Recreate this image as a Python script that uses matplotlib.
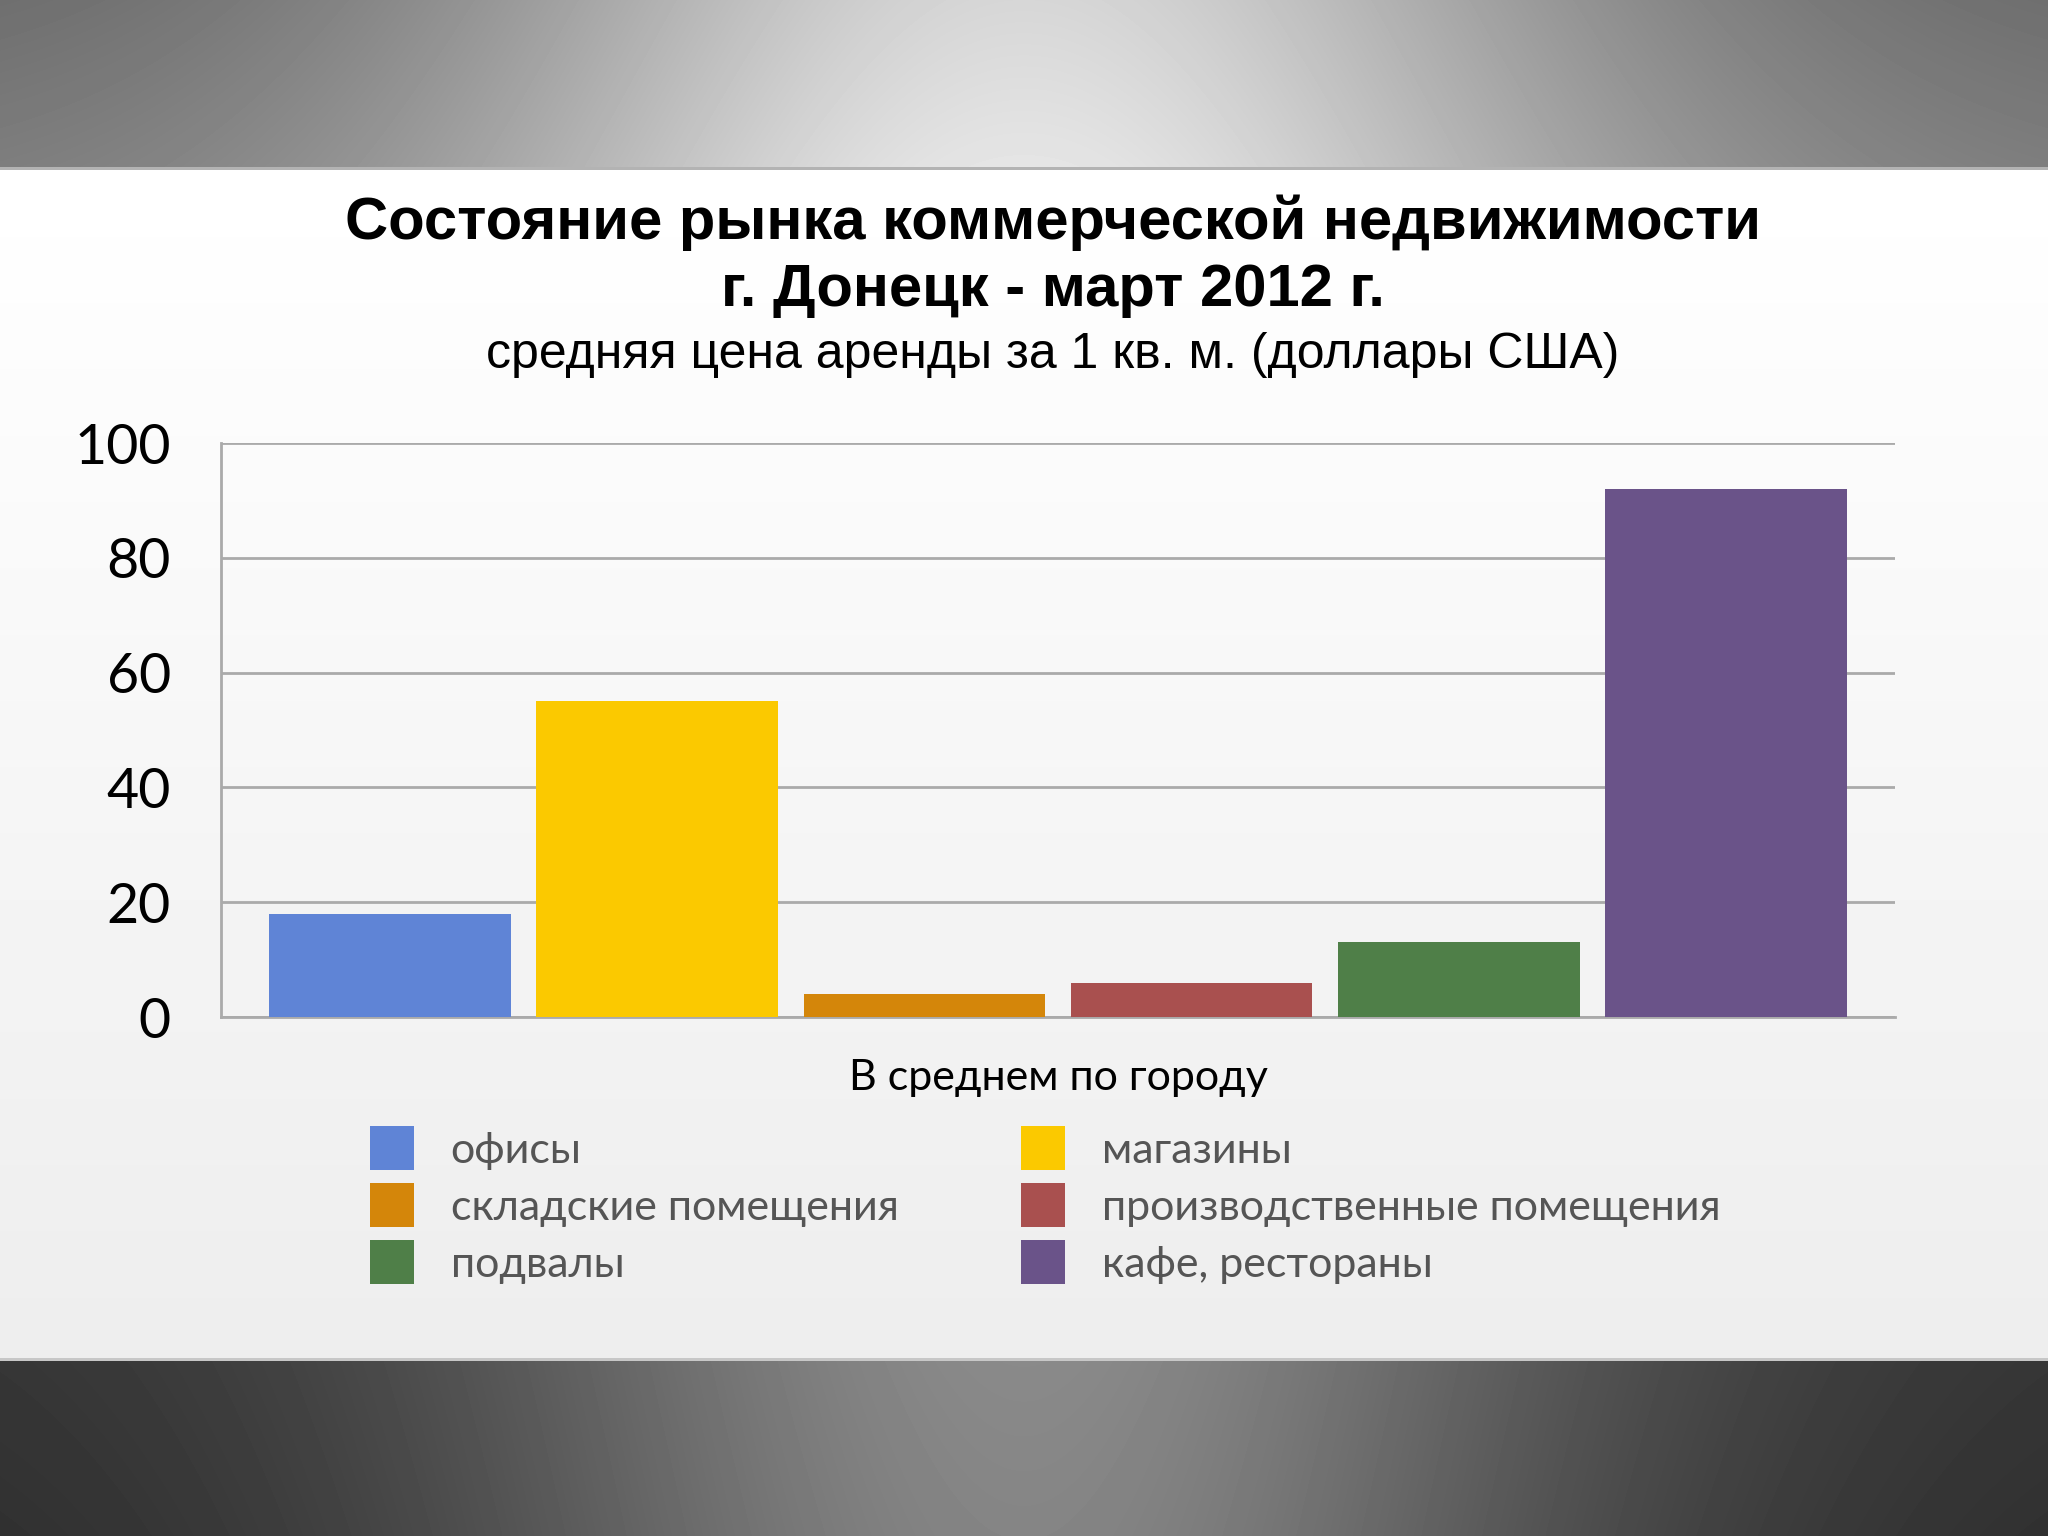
import numpy as np
import matplotlib
matplotlib.use("Agg")
import matplotlib.pyplot as plt
from matplotlib.patches import Patch

# данные
categories = ["офисы", "магазины", "складские помещения",
              "производственные помещения", "подвалы", "кафе, рестораны"]
values = [18, 55, 4, 6, 13, 92]
colors = ["#5f84d6", "#fbc900", "#d4860a", "#a9504f", "#4f7f48", "#6a5389"]
yticks = [0, 20, 40, 60, 80, 100]
group_label = "В среднем по городу"
title1 = "Состояние рынка коммерческой недвижимости"
title2 = "г. Донецк - март 2012 г."
subtitle = "средняя цена аренды за 1 кв. м. (доллары США)"

W, H = 2048, 1536
fig = plt.figure(figsize=(W / 100, H / 100), dpi=100)

# фон слайда: серые полосы сверху и снизу, светлый градиент посередине
xs = np.linspace(-1, 1, W)
ys = np.arange(H)
hx = np.exp(-(xs / 0.55) ** 2)
img = np.zeros((H, W))
top_end, bot_start = 170, 1358
mid = (ys >= top_end) & (ys < bot_start)
t = (ys[mid] - top_end) / (bot_start - top_end)
img[mid, :] = (1.0 - 0.07 * t)[:, None] * np.ones(W)[None, :]
ty = ys[:top_end] / top_end
img[:top_end, :] = (0.42 + 0.06 * ty)[:, None] + 0.42 * hx[None, :]
by = (ys[bot_start:] - bot_start) / (H - bot_start)
img[bot_start:, :] = (0.20 - 0.02 * by)[:, None] + 0.34 * hx[None, :]
img[top_end - 3:top_end, :] = 0.7
img[bot_start:bot_start + 3, :] = 0.78
bg = fig.add_axes([0, 0, 1, 1], zorder=-5)
bg.imshow(np.clip(img, 0, 1), cmap="gray", vmin=0, vmax=1, aspect="auto",
          interpolation="bilinear")
bg.axis("off")

# область графика
ax = fig.add_axes([221 / W, 1 - 1017 / H, (1895 - 221) / W, (1017 - 443) / H])
ax.set_facecolor("none")
x = np.arange(len(values))
bars = ax.bar(x, values, width=0.905, color=colors, label=categories, zorder=3)
ax.set_xlim(-0.633, len(values) - 1 + 0.633)
ax.set_ylim(0, 100)
ax.set_yticks(yticks)
ax.set_yticklabels([str(v) for v in yticks], fontsize=40, family=["Lato", "DejaVu Sans"])
ax.tick_params(axis="y", length=0, pad=36)
ax.set_xticks([])
ax.yaxis.grid(True, color="#aaaaaa", linewidth=2, zorder=0)
for s in ["right", "top"]:
    ax.spines[s].set_visible(False)
for s in ["left", "bottom"]:
    ax.spines[s].set_color("#aaaaaa")
    ax.spines[s].set_linewidth(2)
ax.set_xlabel(group_label, fontsize=31, family=["Lato", "DejaVu Sans"],
              color="black", labelpad=30)

# заголовки
fig.text(0.514, 1 - 223 / H, title1, ha="center", va="center", fontsize=43,
         fontweight="bold", family=["Liberation Sans", "DejaVu Sans"])
fig.text(0.514, 1 - 290 / H, title2, ha="center", va="center", fontsize=43,
         fontweight="bold", family=["Liberation Sans", "DejaVu Sans"])
fig.text(0.514, 1 - 355 / H, subtitle, ha="center", va="center", fontsize=36,
         family=["Liberation Sans", "DejaVu Sans"])

# легенда в два столбца
order = [0, 2, 4, 1, 3, 5]
handles = [Patch(facecolor=colors[i], edgecolor="none") for i in order]
labels = [categories[i] for i in order]
leg = fig.legend(handles, labels, ncol=2, loc="upper left",
                 bbox_to_anchor=(370 / W, 1 - 1126 / H), frameon=False,
                 borderaxespad=0, borderpad=0,
                 prop={"family": ["Lato", "DejaVu Sans"], "size": 31},
                 handlelength=1.02, handleheight=1.2, handletextpad=0.85,
                 labelspacing=0.3, columnspacing=2.85)
for txt in leg.get_texts():
    txt.set_color("#555555")

fig.savefig("out.png", dpi=100)
